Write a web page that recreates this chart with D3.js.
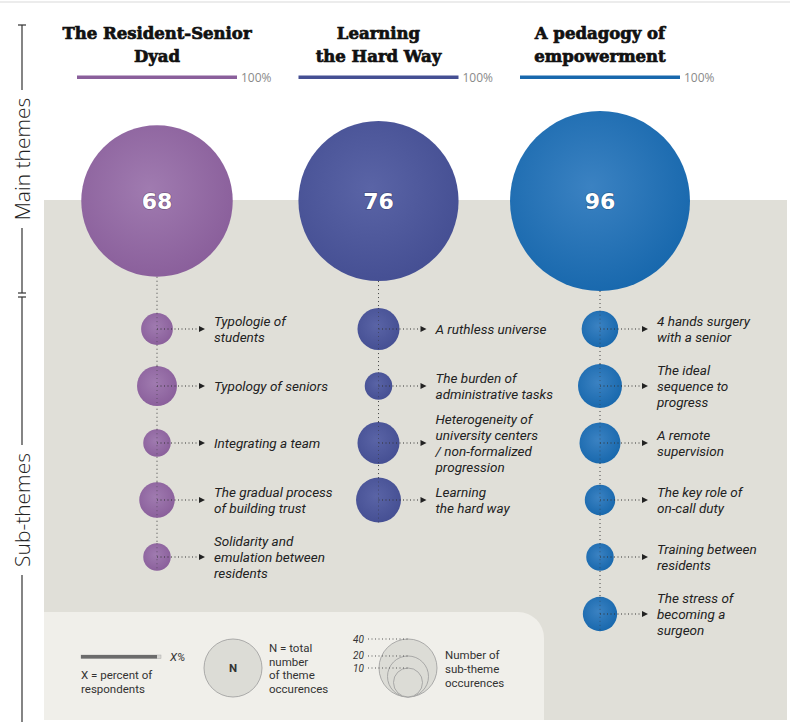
<!DOCTYPE html>
<html>
<head>
<meta charset="utf-8">
<script src="https://cdn.jsdelivr.net/npm/d3@7"></script>
<style>
  body { margin: 0; background: #fff; }
  svg { display: block; }
</style>
</head>
<body>
<div id="chart"></div>
<script>
// main themes
var themeTitles = [
    ["The Resident-Senior", "Dyad"],
    ["Learning", "the Hard Way"],
    ["A pedagogy of", "empowerment"]
];
var themeTotals = [68, 76, 96];
var themePercents = [100, 100, 100];
var themeColors = ["#8a5f9b", "#454f93", "#1868ad"];
var themeLights = ["#a07bb0", "#5a64a6", "#3b82c2"];

// sub-themes (number of occurences)
var subLabels = [
    [["Typologie of", "students"], ["Typology of seniors"], ["Integrating a team"],
     ["The gradual process", "of building trust"], ["Solidarity and", "emulation between", "residents"]],
    [["A ruthless universe"], ["The burden of", "administrative tasks"],
     ["Heterogeneity of", "university centers", "/ non-formalized", "progression"], ["Learning", "the hard way"]],
    [["4 hands surgery", "with a senior"], ["The ideal", "sequence to", "progress"], ["A remote", "supervision"],
     ["The key role of", "on-call duty"], ["Training between", "residents"], ["The stress of", "becoming a", "surgeon"]]
];
var subCounts = [
    [12, 19, 9, 15, 9],
    [21, 9, 21, 24],
    [16, 23, 20, 11, 9, 14]
];

// legend
var legendCounts = [40, 20, 10];

var W = 790, H = 726;
var svg = d3.select("#chart").append("svg").attr("width", W).attr("height", H);
var defs = svg.append("defs");

themeColors.forEach(function(c, i){
    var g = defs.append("radialGradient").attr("id", "grad" + i)
        .attr("cx", "45%").attr("cy", "42%").attr("r", "60%");
    g.append("stop").attr("offset", "0%").attr("stop-color", themeLights[i]);
    g.append("stop").attr("offset", "100%").attr("stop-color", c);
});

var x = d3.scalePoint().domain(d3.range(themeTotals.length)).range([157, 600]);
var rMain = d3.scaleSqrt().domain([0, 96]).range([0, 90]);
var rSub = d3.scaleSqrt().domain([0, 40]).range([0, 29]);
var yRow = d3.scaleLinear().domain([0, 5]).range([329, 614]);
var wBar = d3.scaleLinear().domain([0, 100]).range([0, 160]);
var yMain = 201;

var serifBold = "'DejaVu Serif', serif";
var italicFont = "Roboto, sans-serif";

//---------------------------------------------------------------
// backgrounds
svg.append("line").attr("x1", 0).attr("x2", W).attr("y1", 2).attr("y2", 2)
    .attr("stroke", "#ececec").attr("stroke-width", 2);
svg.append("rect").attr("x", 44).attr("y", 200).attr("width", 743).attr("height", 520)
    .attr("fill", "#e0dfd8");
svg.append("path")
    .attr("d", "M44,612 H518 A26,26 0 0 1 544,638 V720 H44 Z")
    .attr("fill", "#f0efea");

//---------------------------------------------------------------
// left axis
var axisG = svg.append("g").attr("stroke", "#333").attr("stroke-width", 1.2);
axisG.append("line").attr("x1", 22).attr("x2", 22).attr("y1", 25).attr("y2", 90);
axisG.append("line").attr("x1", 22).attr("x2", 22).attr("y1", 228).attr("y2", 293);
axisG.append("line").attr("x1", 22).attr("x2", 22).attr("y1", 297).attr("y2", 445);
axisG.append("line").attr("x1", 22).attr("x2", 22).attr("y1", 575).attr("y2", 722);
[25, 293, 297].forEach(function(t){
    axisG.append("line").attr("x1", 18).attr("x2", 26).attr("y1", t).attr("y2", t);
});
[["Main themes", 159], ["Sub-themes", 510]].forEach(function(d){
    svg.append("text")
        .attr("transform", "translate(30," + d[1] + ") rotate(-90)")
        .attr("text-anchor", "middle")
        .style("font-family", "'Open Sans', sans-serif")
        .style("font-weight", 300)
        .style("font-size", "21px")
        .attr("fill", "#222")
        .text(d[0]);
});

//---------------------------------------------------------------
// columns
themeTotals.forEach(function(total, i){
    var cx = x(i);
    var g = svg.append("g");

    // title
    themeTitles[i].forEach(function(line, k){
        g.append("text").attr("x", cx).attr("y", 39 + k * 23)
            .attr("text-anchor", "middle")
            .style("font-family", serifBold).style("font-weight", "bold")
            .style("font-size", "16.5px").attr("fill", "#111")
            .attr("stroke", "#111").attr("stroke-width", 0.7)
            .text(line);
    });

    // percent bar
    g.append("rect").attr("x", cx - 80).attr("y", 75.5)
        .attr("width", wBar(themePercents[i])).attr("height", 3.5)
        .attr("fill", themeColors[i]);
    g.append("text").attr("x", cx - 80 + wBar(100) + 4).attr("y", 82)
        .style("font-family", "'Open Sans', sans-serif").style("font-size", "12px")
        .attr("fill", "#8a8a8a").text(themePercents[i] + "%");

    // dotted stem
    var nSub = subCounts[i].length;
    g.append("line").attr("x1", cx).attr("x2", cx)
        .attr("y1", yMain + rMain(total)).attr("y2", yRow(nSub - 1))
        .attr("stroke", "#444").attr("stroke-dasharray", "1,3");

    // main circle
    g.append("circle").attr("cx", cx).attr("cy", yMain).attr("r", rMain(total))
        .attr("fill", "url(#grad" + i + ")");
    g.append("text").attr("x", cx).attr("y", yMain)
        .attr("text-anchor", "middle").attr("dy", "0.36em")
        .style("font-family", "'DejaVu Sans', sans-serif").style("font-weight", "bold")
        .style("font-size", "22px").attr("fill", "#fff")
        .style("paint-order", "stroke").attr("stroke", "rgba(0,0,0,0.25)").attr("stroke-width", 1.5)
        .text(total);

    // sub themes
    subCounts[i].forEach(function(n, j){
        var cy = yRow(j);
        g.append("circle").attr("cx", cx).attr("cy", cy).attr("r", rSub(n))
            .attr("fill", "url(#grad" + i + ")");
        g.append("line").attr("x1", cx).attr("x2", cx)
            .attr("y1", cy - rSub(n)).attr("y2", cy + rSub(n))
            .attr("stroke", "#333").attr("stroke-opacity", 0.5).attr("stroke-dasharray", "1,3");
        g.append("line").attr("x1", cx).attr("x2", cx + 42)
            .attr("y1", cy).attr("y2", cy)
            .attr("stroke", "#333").attr("stroke-dasharray", "1,2.5");
        g.append("path")
            .attr("d", "M" + (cx + 42) + "," + (cy - 3) + " L" + (cx + 48) + "," + cy + " L" + (cx + 42) + "," + (cy + 3) + " Z")
            .attr("fill", "#222");
        var lines = subLabels[i][j];
        lines.forEach(function(line, k){
            g.append("text").attr("x", cx + 57)
                .attr("y", cy + (k - (lines.length - 1) / 2) * 16)
                .attr("dy", "0.35em")
                .style("font-family", italicFont).style("font-style", "italic")
                .style("font-size", "13.5px").attr("fill", "#222")
                .text(line);
        });
    });
});

//---------------------------------------------------------------
// legend
var lg = svg.append("g")
    .style("font-family", "Roboto, sans-serif").style("font-size", "11.5px").attr("fill", "#333");

lg.append("rect").attr("x", 81).attr("y", 655).attr("width", wBar(100) / 2).attr("height", 3.5)
    .attr("fill", "#d8d8d4").attr("stroke", "#aaa").attr("stroke-width", 0.5);
lg.append("rect").attr("x", 81).attr("y", 655).attr("width", wBar(95) / 2).attr("height", 3.5)
    .attr("fill", "#6b6b6b");
lg.append("text").attr("x", 170).attr("y", 661).style("font-style", "italic").text("X%");
["X = percent of", "respondents"].forEach(function(t, k){
    lg.append("text").attr("x", 81).attr("y", 679 + k * 14).text(t);
});

lg.append("circle").attr("cx", 233).attr("cy", 668).attr("r", 29)
    .attr("fill", "#dcdcd6").attr("stroke", "#9a9a9a").attr("stroke-width", 0.8);
lg.append("text").attr("x", 233).attr("y", 672).attr("text-anchor", "middle")
    .style("font-weight", "bold").text("N");
["N = total", "number", "of theme", "occurences"].forEach(function(t, k){
    lg.append("text").attr("x", 269).attr("y", 652 + k * 13.5).text(t);
});

var lcx = 408, lbottom = 697;
legendCounts.forEach(function(n){
    var r = rSub(n);
    lg.append("circle").attr("cx", lcx).attr("cy", lbottom - r).attr("r", r)
        .attr("fill", "#dcdcd6").attr("stroke", "#9a9a9a").attr("stroke-width", 0.8);
});
legendCounts.forEach(function(n){
    var top = lbottom - 2 * rSub(n);
    lg.append("line").attr("x1", 368).attr("x2", lcx).attr("y1", top).attr("y2", top)
        .attr("stroke", "#555").attr("stroke-dasharray", "1,2.5");
    lg.append("text").attr("x", 353).attr("y", top).attr("dy", "0.35em")
        .style("font-style", "italic").style("font-size", "10px").text(n);
});
["Number of", "sub-theme", "occurences"].forEach(function(t, k){
    lg.append("text").attr("x", 445).attr("y", 659 + k * 14).text(t);
});
</script>
</body>
</html>
